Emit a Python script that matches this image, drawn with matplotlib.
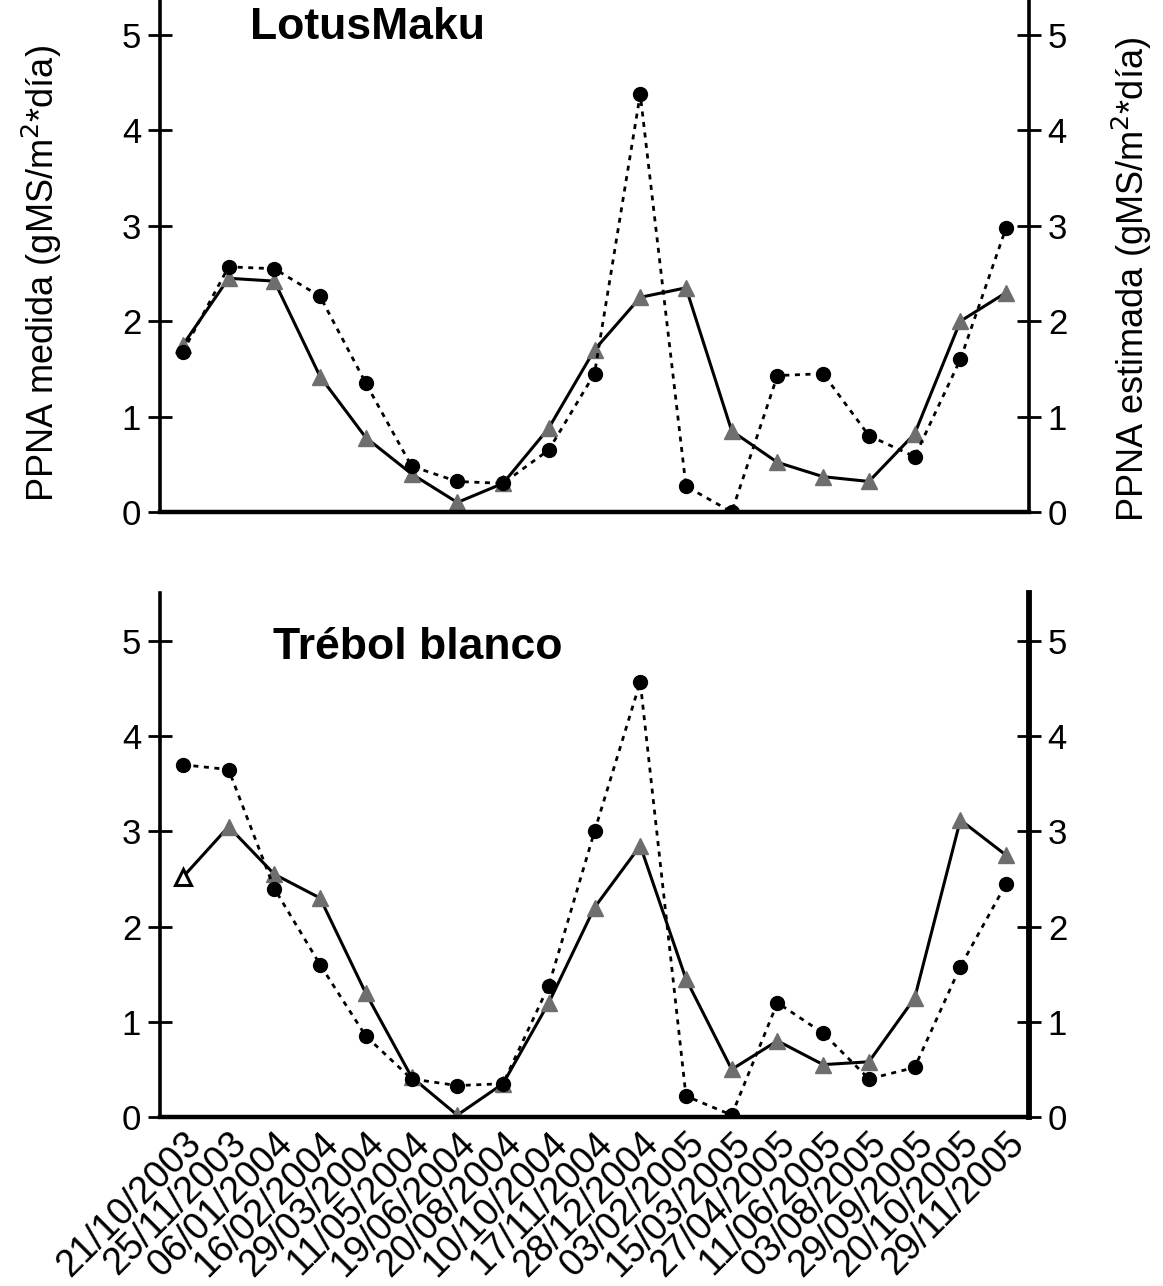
import matplotlib
matplotlib.use("Agg")
import matplotlib.pyplot as plt
import numpy as np

plt.rcParams['font.family'] = ['Liberation Sans', 'DejaVu Sans']

# Sampling dates (category axis)
fechas = ["21/10/2003", "25/11/2003", "06/01/2004", "16/02/2004", "29/03/2004",
          "11/05/2004", "19/06/2004", "20/08/2004", "10/10/2004", "17/11/2004",
          "28/12/2004", "03/02/2005", "15/03/2005", "27/04/2005", "11/06/2005",
          "03/08/2005", "29/09/2005", "20/10/2005", "29/11/2005"]

# Lotus Maku: measured (dotted, black) and estimated (solid, grey triangles)
lotus_medida = [1.68, 2.57, 2.55, 2.26, 1.35, 0.48, 0.32, 0.30, 0.65, 1.45,
                4.38, 0.27, 0.00, 1.43, 1.45, 0.80, 0.58, 1.60, 2.98]
lotus_estimada = [1.75, 2.45, 2.42, 1.42, 0.78, 0.40, 0.10, 0.30, 0.88, 1.70,
                  2.25, 2.35, 0.85, 0.52, 0.37, 0.32, 0.82, 2.00, 2.30]

# Trébol blanco
trebol_medida = [3.70, 3.65, 2.40, 1.60, 0.85, 0.40, 0.33, 0.35, 1.38, 3.00,
                 4.57, 0.22, 0.02, 1.20, 0.88, 0.40, 0.52, 1.58, 2.45]
trebol_estimada = [2.52, 3.05, 2.55, 2.30, 1.30, 0.42, 0.02, 0.35, 1.20, 2.20,
                   2.85, 1.45, 0.50, 0.80, 0.55, 0.58, 1.25, 3.12, 2.75]

titulos = ["LotusMaku", "Trébol blanco"]
ylab_izq = "PPNA medida (gMS/m$^{2}$*día)"
ylab_der = "PPNA estimada (gMS/m$^{2}$*día)"
yticks = [0, 1, 2, 3, 4, 5]

W, H = 1163, 1286
fig = plt.figure(figsize=(W / 100, H / 100), dpi=100)

x = np.arange(len(fechas))
TICK_FS = 25

def panel(rect, ytop, medida, estimada, titulo, titulo_pos, etiquetas,
          fechas_vis, lw_right, hueco_inicial):
    ax = fig.add_axes(rect)
    ax.set_xlim(-0.5, len(fechas) - 0.5)
    ax.set_ylim(0, ytop)
    ax.patch.set_alpha(0)

    ax.plot(x, estimada, color='black', lw=2.2, zorder=3)
    ax.plot(x, estimada, ls='none', marker='^', ms=12, mfc='#6e6e6e',
            mec='#6e6e6e', zorder=4)
    if hueco_inicial:
        ax.plot(x[:1], estimada[:1], ls='none', marker='^', ms=11, mfc='white',
                mec='black', mew=2.2, zorder=5)
    ax.plot(x, medida, color='black', lw=2.0, ls=(0, (1.8, 2.0)), zorder=5)
    ax.plot(x, medida, ls='none', marker='o', ms=10, mfc='black', mec='black',
            zorder=6)

    for s in ['top', 'right']:
        ax.spines[s].set_visible(False)
    ax.spines['left'].set_linewidth(2.6)
    ax.spines['bottom'].set_linewidth(3.2)
    ax.spines['bottom'].set_zorder(7)

    ax.set_yticks(yticks)
    ax.tick_params(axis='y', direction='inout', length=17, width=2.0,
                   labelsize=TICK_FS, pad=5)
    ax.set_xticks(x)
    if fechas_vis:
        ax.set_xticklabels(fechas, rotation=45, ha='right', va='top',
                           rotation_mode='anchor', fontsize=27)
        ax.tick_params(axis='x', length=0, pad=6)
    else:
        ax.set_xticklabels([])
        ax.tick_params(axis='x', length=0)

    ax.text(titulo_pos[0], titulo_pos[1], titulo, transform=ax.transAxes,
            fontsize=32, fontweight='bold', ha='left', va='top', zorder=8)

    ax2 = ax.twinx()
    ax2.set_ylim(0, ytop)
    ax2.set_yticks(yticks)
    ax2.tick_params(axis='y', direction='inout', length=17, width=2.0,
                    labelsize=TICK_FS, pad=5)
    for s in ['top', 'left', 'bottom']:
        ax2.spines[s].set_visible(False)
    ax2.spines['right'].set_linewidth(lw_right)

    if etiquetas:
        ax.set_ylabel(ylab_izq, fontsize=26)
        ax.yaxis.set_label_coords(-0.110, 0.465)
        ax2.set_ylabel(ylab_der, fontsize=26, rotation=90)
        ax2.yaxis.set_label_coords(1.093, 0.455)
    return ax, ax2

# Axes placement in figure coordinates
left = 160 / W
width = (1029 - 160) / W

top_bottom = (H - 512) / H
top_height = 512 / H
panel([left, top_bottom, width, top_height], 512 / 95.4,
      lotus_medida, lotus_estimada, titulos[0], (0.103, 0.986), True, False,
      2.6, False)

bot_bottom = (H - 1117) / H
bot_height = (1117 - 593) / H
panel([left, bot_bottom, width, bot_height], (1117 - 593) / 95.2,
      trebol_medida, trebol_estimada, titulos[1], (0.130, 0.935), False, True,
      4.2, True)

fig.savefig("out.png", dpi=100, facecolor='white')
